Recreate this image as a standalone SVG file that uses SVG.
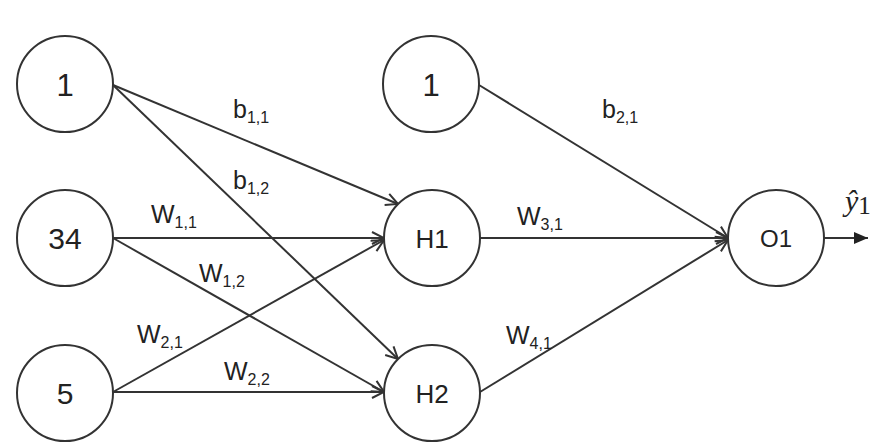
<svg xmlns="http://www.w3.org/2000/svg" width="894" height="447" viewBox="0 0 894 447">
<defs>
<style>
.node circle{fill:#fff;stroke:#333;stroke-width:2}
.nt{font-family:"Liberation Sans",Arial,sans-serif;fill:#222;text-anchor:middle}
.edge{stroke:#333;stroke-width:2;fill:none}
.lbl{font-family:"Liberation Sans",Arial,sans-serif;font-size:25px;fill:#222}
.sub{font-size:16px}
</style>
<marker id="open" viewBox="0 0 14 14" refX="13" refY="7" markerWidth="14" markerHeight="14" markerUnits="userSpaceOnUse" orient="auto">
<path d="M1,1 L13,7 L1,13" fill="none" stroke="#333" stroke-width="2"/>
</marker>
<marker id="solid" viewBox="0 0 14 12" refX="14" refY="6" markerWidth="14" markerHeight="12" markerUnits="userSpaceOnUse" orient="auto">
<path d="M0,0 L14,6 L0,12 Z" fill="#222"/>
</marker>
</defs>
<rect width="894" height="447" fill="#fff"/>
<g id="connectors">
<line class="edge" x1="113" y1="85" x2="398" y2="204" marker-end="url(#open)"/>
<line class="edge" x1="113" y1="85" x2="398" y2="359" marker-end="url(#open)"/>
<line class="edge" x1="113" y1="238" x2="384" y2="238" marker-end="url(#open)"/>
<line class="edge" x1="113" y1="238" x2="384" y2="392" marker-end="url(#open)"/>
<line class="edge" x1="113" y1="392" x2="384" y2="240" marker-end="url(#open)"/>
<line class="edge" x1="113" y1="392" x2="384" y2="392" marker-end="url(#open)"/>
<line class="edge" x1="479" y1="85" x2="728" y2="238" marker-end="url(#open)"/>
<line class="edge" x1="480" y1="238" x2="728" y2="238" marker-end="url(#open)"/>
<line class="edge" x1="480" y1="392" x2="728" y2="240" marker-end="url(#open)"/>
<line class="edge" x1="824" y1="238" x2="868" y2="238" marker-end="url(#solid)"/>
</g>
<g id="labels">
<text class="lbl" x="233" y="118">b<tspan class="sub" dy="5">1,1</tspan></text>
<text class="lbl" x="233" y="189">b<tspan class="sub" dy="5">1,2</tspan></text>
<text class="lbl" x="602" y="118">b<tspan class="sub" dy="5">2,1</tspan></text>
<text class="lbl" x="151" y="223">W<tspan class="sub" dy="5">1,1</tspan></text>
<text class="lbl" x="199" y="282">W<tspan class="sub" dy="5">1,2</tspan></text>
<text class="lbl" x="137" y="343">W<tspan class="sub" dy="5">2,1</tspan></text>
<text class="lbl" x="224" y="380">W<tspan class="sub" dy="5">2,2</tspan></text>
<text class="lbl" x="517" y="225">W<tspan class="sub" dy="5">3,1</tspan></text>
<text class="lbl" x="506" y="344">W<tspan class="sub" dy="5">4,1</tspan></text>
<text x="845" y="211" font-family="'Liberation Serif','Times New Roman',serif" font-size="30" font-style="italic" fill="#222">ŷ<tspan font-style="normal" font-size="25" dy="3">1</tspan></text>
</g>
<g id="n-in1" class="node"><circle cx="65" cy="84" r="48"/><text class="nt" x="65" y="96" font-size="31">1</text></g>
<g id="n-in34" class="node"><circle cx="65" cy="238" r="48"/><text class="nt" x="65" y="249" font-size="30">34</text></g>
<g id="n-in5" class="node"><circle cx="65" cy="393" r="48"/><text class="nt" x="65" y="404" font-size="30">5</text></g>
<g id="n-b2" class="node"><circle cx="431" cy="84" r="48"/><text class="nt" x="431" y="96" font-size="31">1</text></g>
<g id="n-h1" class="node"><circle cx="432" cy="238" r="48"/><text class="nt" x="432" y="248" font-size="26">H1</text></g>
<g id="n-h2" class="node"><circle cx="432" cy="393" r="48"/><text class="nt" x="432" y="403" font-size="26">H2</text></g>
<g id="n-o1" class="node"><circle cx="776" cy="238" r="48"/><text class="nt" x="776" y="247" font-size="24">O1</text></g>
</svg>
